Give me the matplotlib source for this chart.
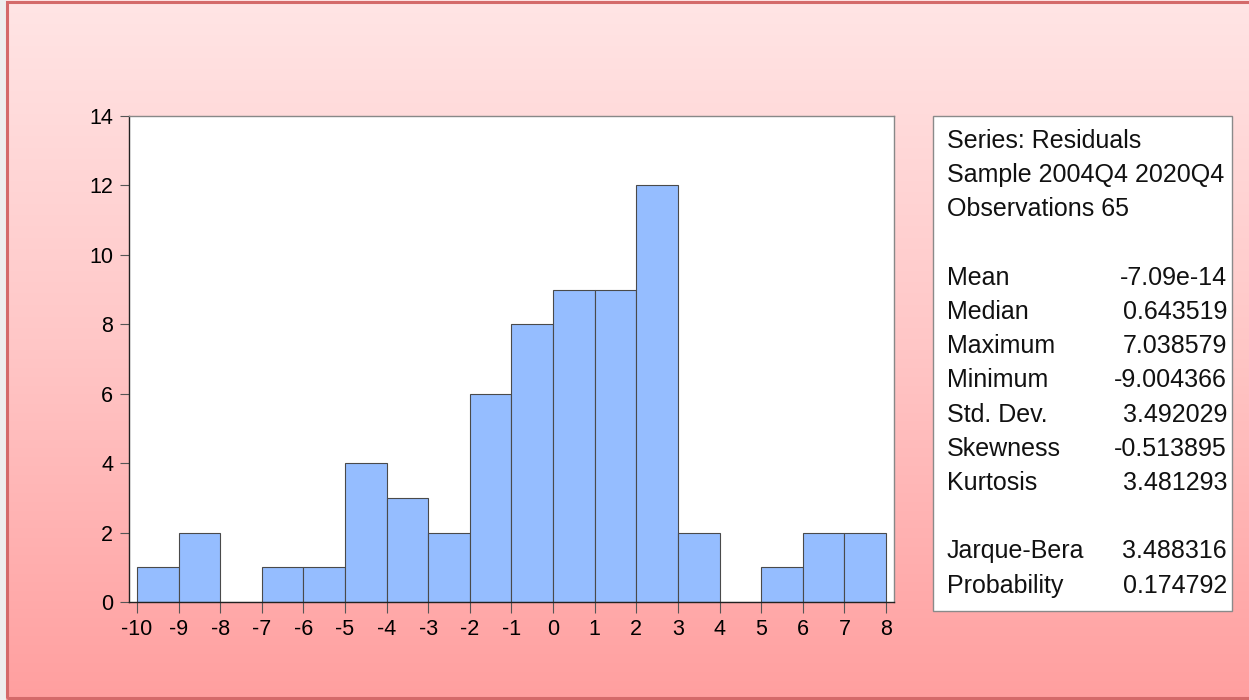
import numpy as np
import matplotlib.pyplot as plt
from matplotlib.colors import LinearSegmentedColormap
from matplotlib.patches import Rectangle

plt.rcParams['font.family'] = ['Liberation Sans', 'DejaVu Sans']

# residual histogram, unit-width bins from -10 to 8
bin_edges = list(range(-10, 9))
counts = [1, 2, 0, 1, 1, 4, 3, 2, 6, 8, 9, 9, 12, 2, 0, 1, 2, 2]
y_ticks = [0, 2, 4, 6, 8, 10, 12, 14]

header_lines = ["Series: Residuals", "Sample 2004Q4 2020Q4", "Observations 65"]
stat_names = ["Mean", "Median", "Maximum", "Minimum", "Std. Dev.",
              "Skewness", "Kurtosis"]
stat_values = ["-7.09e-14", "0.643519", "7.038579", "-9.004366", "3.492029",
               "-0.513895", "3.481293"]
test_names = ["Jarque-Bera", "Probability"]
test_values = ["3.488316", "0.174792"]

W, H = 1249, 700
fig = plt.figure(figsize=(W / 100, H / 100), dpi=100)

# pink gradient backdrop with a red frame
bg = fig.add_axes([0, 0, 1, 1], zorder=-10)
bg.set_axis_off()
cmap = LinearSegmentedColormap.from_list("bgpink", ["#ffe5e5", "#ffc6c6", "#ff9f9f"])
grad = np.linspace(0, 1, 256).reshape(-1, 1)
bg.imshow(grad, cmap=cmap, aspect="auto", extent=[0, 1, 0, 1], origin="upper")
bg.set_xlim(0, 1)
bg.set_ylim(0, 1)
bg.add_patch(Rectangle((0, 0), 6 / W, 1, facecolor="#eeeeee", edgecolor="none"))
bg.add_patch(Rectangle((6.5 / W, 2 / H), 1.2, 1 - 3.5 / H, facecolor="none",
                       edgecolor="#d46a6a", lw=2.2))

def px(x, y):
    return x / W, 1 - y / H

ax = fig.add_axes([129 / W, (H - 602) / H, (894 - 129) / W, (602 - 116) / H])
ax.set_facecolor("white")
ax.bar(bin_edges[:-1], counts, width=1, align="edge", color="#95bdff",
       edgecolor="#4a4a4a", linewidth=0.8)
ax.set_xlim(-10.19, 8.19)
ax.set_ylim(0, 14)
ax.set_xticks(bin_edges)
ax.set_xticklabels([str(v) for v in bin_edges])
ax.set_yticks(y_ticks)
ax.tick_params(axis="x", direction="out", length=8, width=0.8, color="#555555",
               labelsize=15.5, pad=4)
ax.tick_params(axis="y", direction="out", length=6.5, width=0.8, color="#555555",
               labelsize=15.5, pad=5)
for side in ["left", "bottom"]:
    ax.spines[side].set_color("#222222")
    ax.spines[side].set_linewidth(1.0)
for side in ["top", "right"]:
    ax.spines[side].set_color("#888888")
    ax.spines[side].set_linewidth(1.0)

# statistics panel
bg.add_patch(Rectangle(px(933, 611), (1232 - 933) / W, (611 - 116) / H,
                       facecolor="white", edgecolor="#8a8a8a", lw=1.0))
fs = 18
x_left, x_right = 947, 1227
y0 = 148
step = 34.2
for i, line in enumerate(header_lines):
    fig.text(*px(x_left, y0 + i * step), line, fontsize=fs, va="baseline",
             ha="left", color="#111111")
for i, (name, val) in enumerate(zip(stat_names, stat_values)):
    y = y0 + (i + 4) * step
    fig.text(*px(x_left, y), name, fontsize=fs, va="baseline", ha="left",
             color="#111111")
    fig.text(*px(x_right, y), val, fontsize=fs, va="baseline", ha="right",
             color="#111111")
for i, (name, val) in enumerate(zip(test_names, test_values)):
    y = y0 + (i + 12) * step
    fig.text(*px(x_left, y), name, fontsize=fs, va="baseline", ha="left",
             color="#111111")
    fig.text(*px(x_right, y), val, fontsize=fs, va="baseline", ha="right",
             color="#111111")

fig.savefig("out.png", dpi=100)
